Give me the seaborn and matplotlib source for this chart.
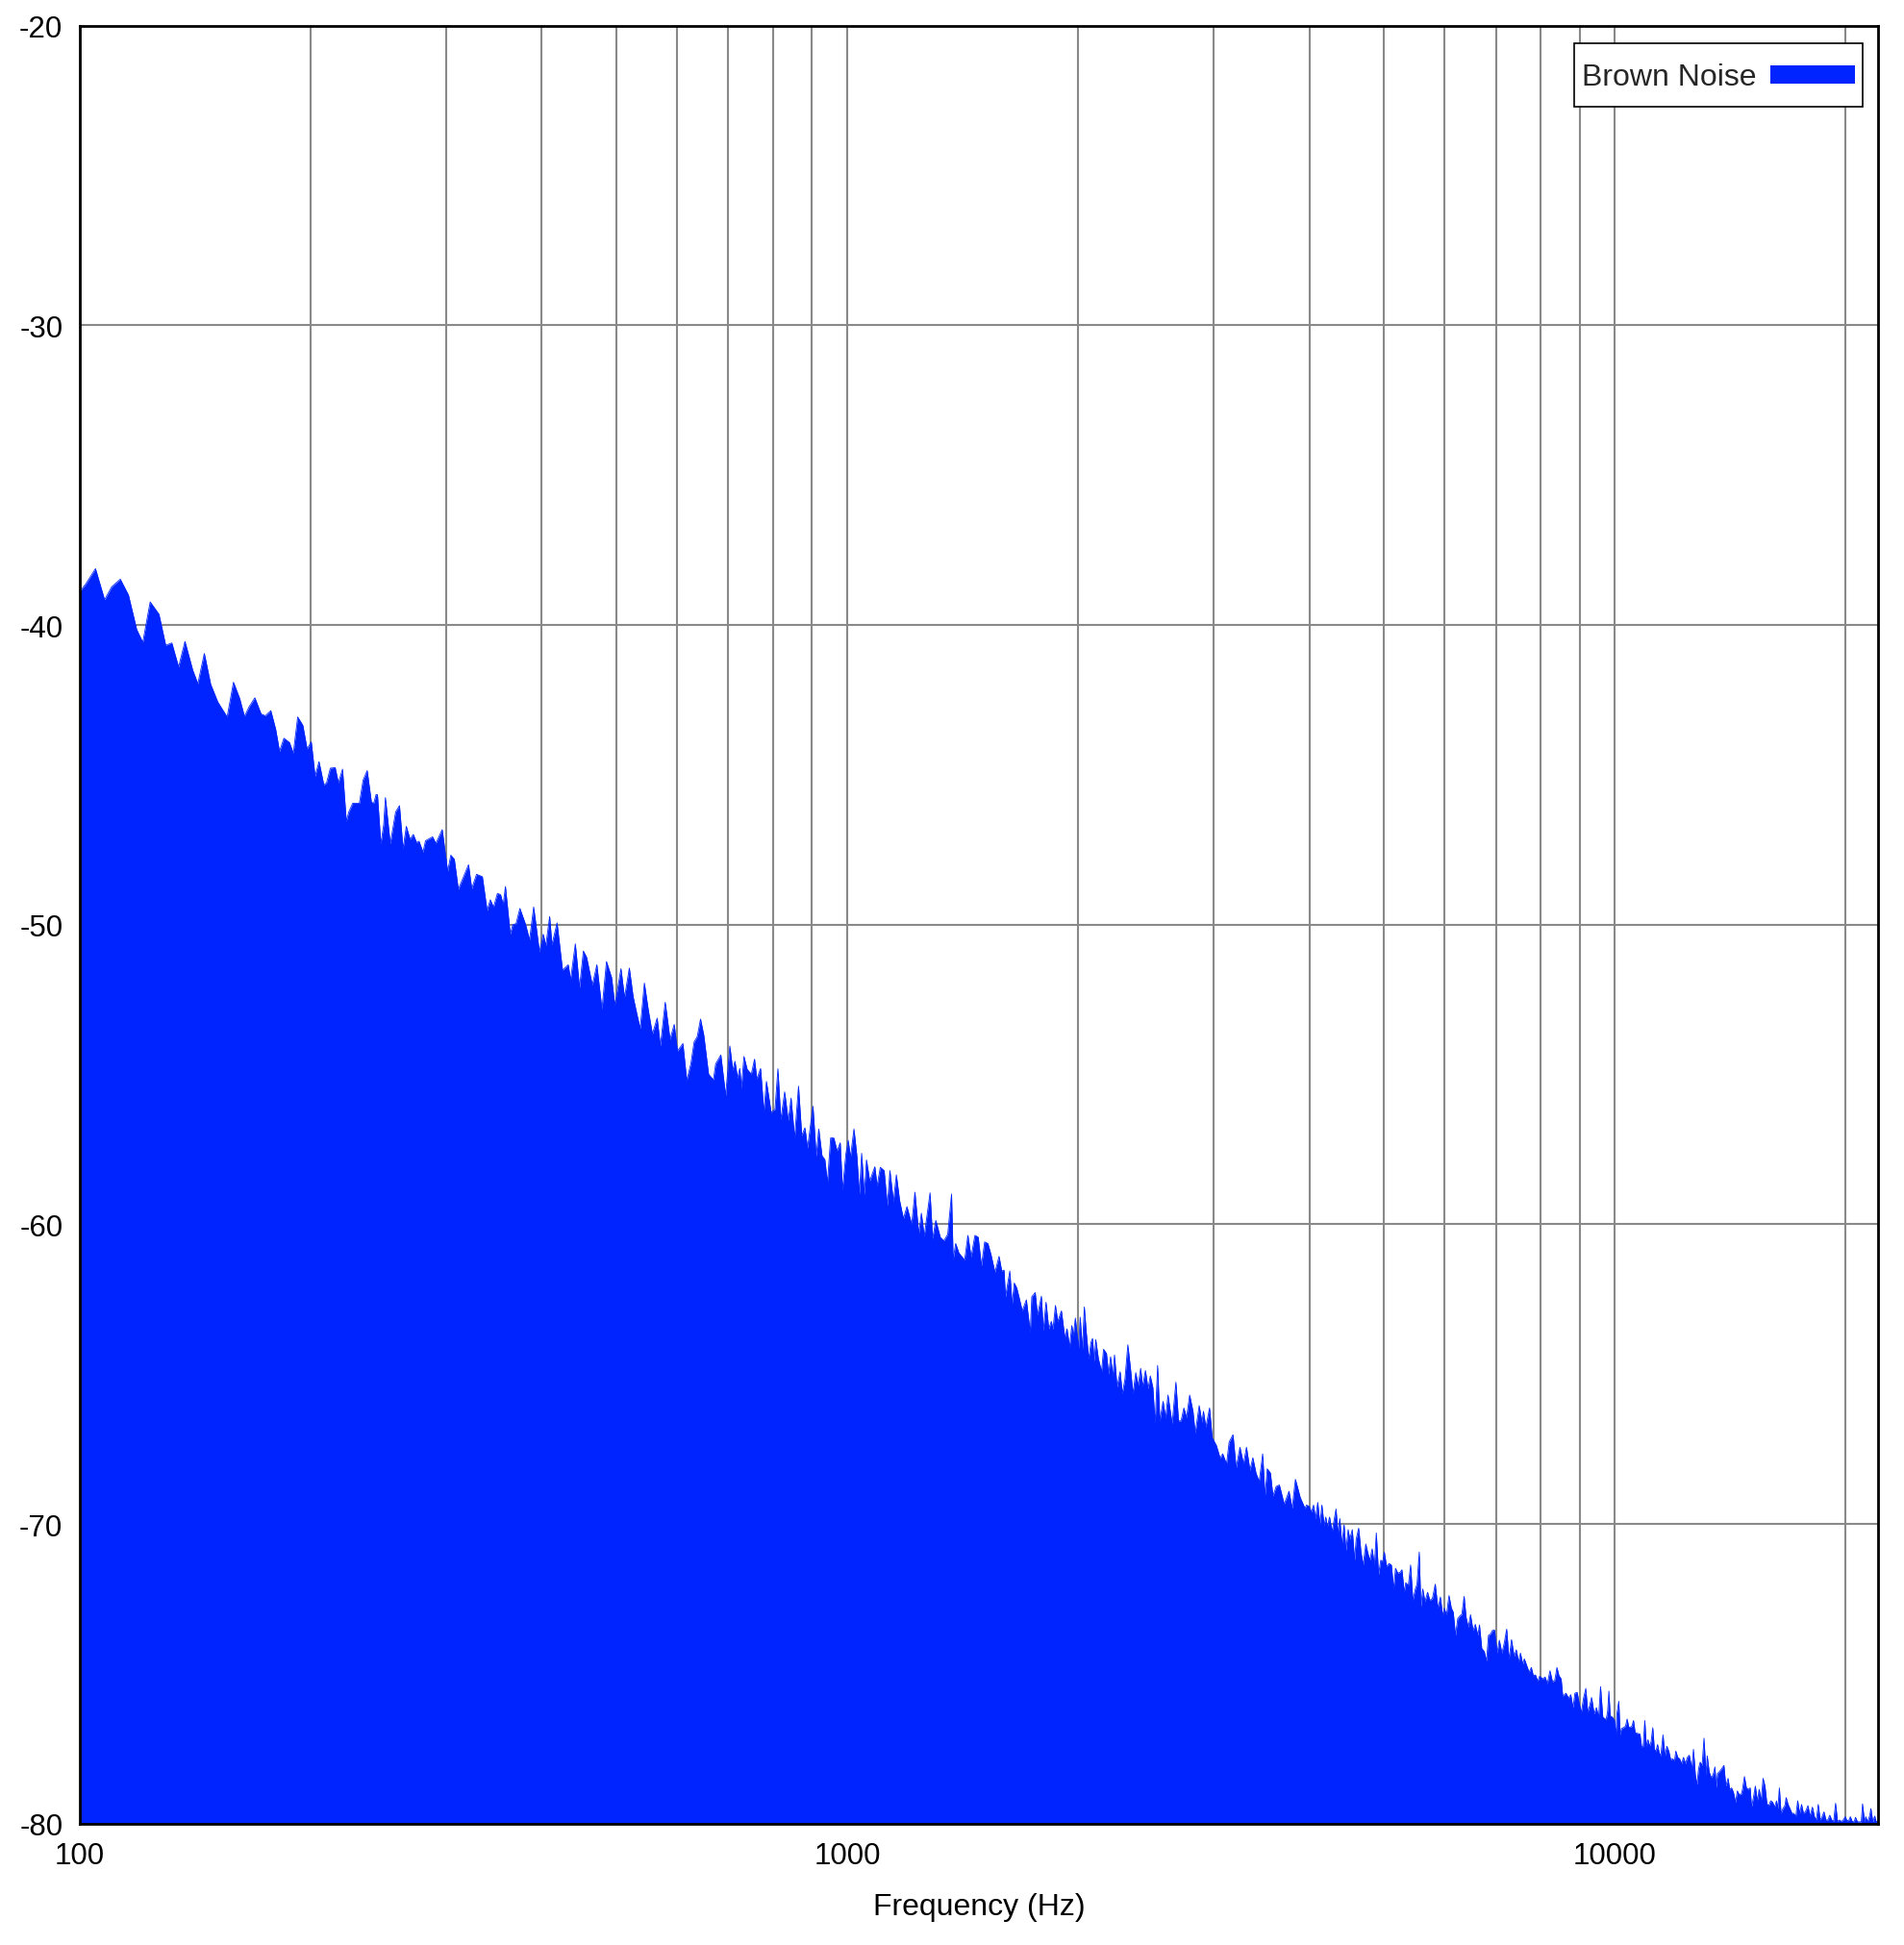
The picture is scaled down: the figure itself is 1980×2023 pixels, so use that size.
import numpy as np
import pandas as pd
import matplotlib
matplotlib.use("Agg")
import matplotlib.pyplot as plt
import seaborn as sns
from matplotlib.ticker import FixedLocator, FixedFormatter, NullFormatter
from matplotlib.legend_handler import HandlerPatch
from matplotlib.patches import Rectangle

# ---------------- data ----------------
freq_band1 = [100.0, 101.9, 104.9, 107.8, 110.1, 113.0, 115.8, 118.7, 120.9, 123.6, 126.9, 129.5,
              131.9, 134.6, 137.2, 140.4, 142.6, 145.4, 148.2, 151.4, 155.7, 158.7, 161.7, 164.0,
              166.3, 169.2, 172.4, 174.6, 177.5, 180.1, 182.2, 184.6, 187.7, 189.9, 192.4, 195.4,
              197.9, 200.4, 202.7, 205.1, 208.1, 209.8, 212.2, 215.3, 217.4, 220.1, 222.6, 224.2,
              226.9, 231.5, 234.1, 237.0, 240.0, 241.7, 243.4, 244.4, 246.9, 249.0]
db_band1 = [-38.9, -38.63, -38.12, -39.16, -38.73, -38.47, -39.0, -40.15, -40.58, -39.23, -39.64, -40.68,
            -40.6, -41.4, -40.55, -41.5, -41.96, -40.95, -41.98, -42.57, -43.07, -41.91, -42.46, -43.05,
            -42.73, -42.43, -42.97, -43.03, -42.86, -43.48, -44.22, -43.78, -43.92, -44.28, -43.07, -43.35,
            -44.14, -43.9, -45.05, -44.56, -45.34, -45.27, -44.78, -44.76, -45.27, -44.81, -46.55, -46.25,
            -45.95, -45.95, -45.18, -44.86, -45.91, -45.95, -45.66, -45.66, -47.31, -46.67]

freq_band2 = [250.3, 254.0, 258.1, 261.1, 263.9, 266.5, 269.5, 272.2, 274.8, 276.9, 280.2, 282.3,
              288.4, 291.2, 296.8, 301.7, 304.6, 307.8, 311.5, 321.2, 324.3, 329.0, 334.8, 339.6,
              342.9, 346.2, 350.3, 353.6, 356.4, 358.8, 364.0, 366.8, 370.4, 374.7, 381.2, 385.7,
              390.5, 397.3, 401.9, 405.0, 409.7, 412.5, 418.9, 425.8, 433.2, 436.2, 442.5, 448.1,
              453.3, 457.7, 465.7, 472.0, 479.3, 485.8, 493.4, 498.1, 507.4, 512.8, 520.3, 526.3,
              532.9, 537.6, 544.3, 550.6, 557.6, 565.6, 571.1, 579.4, 587.9, 595.3, 601.1, 611.0,
              618.1, 625.8, 631.9, 638.0, 644.2]
db_band2 = [-45.76, -47.31, -46.24, -46.03, -47.47, -46.72, -47.15, -46.99, -47.26, -47.22, -47.58, -47.2,
            -47.07, -47.29, -46.83, -48.22, -47.68, -47.82, -48.82, -48.0, -48.8, -48.32, -48.4, -49.53,
            -49.17, -49.42, -48.96, -49.0, -49.33, -48.73, -50.32, -50.0, -49.97, -49.46, -50.0, -50.51,
            -49.41, -50.91, -50.32, -50.7, -49.73, -50.67, -49.94, -51.52, -51.34, -51.84, -50.64, -52.11,
            -50.88, -51.09, -52.02, -51.34, -52.83, -51.23, -51.77, -52.69, -51.47, -52.43, -51.45, -52.41,
            -53.05, -53.47, -51.95, -52.83, -53.65, -53.12, -54.05, -52.59, -53.83, -53.33, -54.22, -53.97,
            -55.2, -54.64, -53.92, -53.73, -53.15]

freq_band3 = [650.5, 659.9, 669.6, 674.1, 684.6, 694.6, 703.4, 709.5, 714.3, 719.8, 724.7, 728.2,
              733.8, 740.9, 750.2, 757.5, 762.6, 771.4, 778.9, 785.0, 796.2, 805.4, 812.5, 819.6,
              829.1, 838.0, 845.2, 854.2, 864.3, 872.7, 881.1, 888.0, 902.6, 911.4, 918.4, 927.3,
              935.3, 942.6, 951.7, 961.0, 970.1, 979.5, 986.1, 996.3, 1003.2, 1010.0, 1020.7, 1029.5,
              1037.5, 1044.5, 1052.7, 1059.8, 1070.1, 1086.7, 1094.0, 1104.6, 1117.4, 1128.2, 1136.9,
              1149.0, 1159.1, 1170.3, 1183.9, 1196.5, 1213.7, 1225.5, 1239.7, 1249.4, 1260.2, 1282.4,
              1292.2, 1304.8, 1322.3, 1336.4, 1352.1, 1367.8, 1374.4, 1384.9, 1398.3, 1422.7, 1436.5,
              1450.5, 1467.3, 1481.6, 1496.0, 1510.5, 1525.2, 1539.6, 1557.8, 1577.3]
db_band3 = [-53.69, -54.99, -55.18, -54.65, -54.35, -55.71, -54.05, -54.86, -54.56, -55.12, -54.8, -55.47,
            -54.4, -54.83, -54.99, -54.49, -55.15, -54.8, -56.25, -55.23, -56.27, -56.16, -54.81, -56.51,
            -55.58, -56.54, -55.79, -57.12, -55.39, -57.04, -56.78, -57.46, -56.06, -57.74, -56.82, -57.71,
            -57.84, -58.61, -57.12, -57.12, -57.55, -57.28, -58.85, -57.65, -57.2, -57.76, -56.82, -57.71,
            -58.99, -57.63, -59.02, -57.85, -58.56, -58.08, -58.72, -58.1, -58.21, -59.38, -58.21,
            -59.25, -58.35, -59.2, -59.81, -59.41, -60.0, -58.93, -60.32, -59.63, -60.4, -58.95,
            -60.48, -59.87, -60.43, -60.55, -60.34, -58.99, -61.17, -60.64, -60.96, -61.19, -60.37,
            -61.09, -60.37, -60.43, -61.39, -60.59, -60.64, -61.01, -61.6, -61.07]

freq_band4 = [1590, 1601, 1608, 1629, 1640, 1651, 1663, 1675, 1691, 1712, 1732, 1740, 1758, 1770, 1791,
              1801, 1816, 1831, 1845, 1854, 1868, 1881, 1902, 1921, 1934, 1949, 1962, 1971, 1983, 2002,
              2012, 2025, 2037, 2049, 2064, 2078, 2088, 2098, 2108, 2125, 2145, 2158, 2177, 2191, 2204,
              2219, 2230, 2247, 2268, 2283, 2301, 2321, 2339, 2357, 2377, 2394, 2412, 2426, 2447, 2466,
              2483, 2502, 2519, 2538, 2555, 2580, 2600, 2618, 2651, 2681, 2702, 2723, 2746, 2768, 2794,
              2822, 2841, 2875, 2899, 2912, 2933, 2966, 2989, 3027, 3062, 3085, 3121, 3145, 3182, 3212,
              3249, 3284, 3313, 3348, 3377, 3409, 3442, 3478, 3502, 3526, 3560, 3587, 3622, 3657, 3710,
              3764, 3800, 3837, 3893, 3949]
db_band4 = [-61.56, -61.53, -62.42, -61.56, -62.67, -61.96, -62.12, -62.44, -62.89, -62.52, -63.61, -62.42,
            -62.28, -63.03, -62.4, -63.56, -62.6, -63.49, -63.24, -63.51, -62.71, -63.24, -62.89, -63.78,
            -63.49, -64.1, -63.38, -63.72, -63.13, -64.13, -63.1, -64.17, -62.76, -63.61, -64.49, -63.94,
            -63.81, -64.58, -63.85, -64.49, -64.92, -64.17, -64.31, -65.01, -64.42, -65.09, -64.36, -65.43,
            -64.92, -65.65, -65.17, -64.02, -64.79, -65.65, -64.95, -65.38, -64.81, -65.41, -64.88, -65.49,
            -65.06, -65.45, -66.66, -64.71, -66.56, -65.91, -66.48, -65.7, -66.66, -65.27, -66.56, -66.56,
            -66.13, -66.45, -65.7, -66.24, -66.98, -66.05, -66.61, -66.24, -66.77, -66.13, -67.12, -67.38,
            -67.81, -67.66, -68.0, -67.27, -67.02, -68.13, -67.44, -68.0, -67.44, -68.21, -67.79, -68.3,
            -68.59, -67.66, -69.07, -68.16, -68.3, -69.07, -68.75, -68.7, -69.34, -68.91, -69.48, -68.51,
            -69.12, -69.48]

freq_band5 = [3967, 3998, 4025, 4052, 4075, 4103, 4130, 4154, 4182, 4203, 4223, 4251, 4284, 4305, 4334,
              4359, 4384, 4410, 4440, 4465, 4495, 4516, 4551, 4582, 4604, 4639, 4671, 4702, 4739, 4770,
              4798, 4830, 4863, 4891, 4924, 4957, 4986, 5010, 5044, 5083, 5117, 5152, 5181, 5216, 5251,
              5282, 5318, 5343, 5384, 5421, 5457, 5499, 5526, 5563, 5590, 5622, 5660, 5704, 5743, 5787,
              5837, 5882, 5928, 5968, 5996, 6037, 6083, 6125, 6160, 6202, 6244, 6280, 6322, 6365, 6402,
              6445, 6488, 6538, 6582, 6633, 6665, 6710, 6762, 6807, 6847, 6893, 6926, 6973, 7027, 7074,
              7129, 7177, 7232, 7281, 7337, 7394, 7444, 7494, 7537, 7588, 7624, 7683, 7735, 7787, 7832,
              7885, 7938, 7984, 8053, 8116, 8170, 8234, 8297, 8353, 8409, 8458, 8515, 8556, 8639, 8705,
              8764, 8823, 8874, 8934, 8994, 9046, 9107, 9169, 9222, 9284, 9329, 9401, 9465, 9528, 9583,
              9648, 9713]
db_band5 = [-69.37, -69.41, -69.6, -69.37, -69.84, -69.28, -70.01, -69.37, -70.05, -69.77, -70.09, -69.77,
            -70.25, -69.93, -69.5, -70.3, -69.82, -70.67, -70.03, -70.89, -70.19, -70.51, -70.19, -71.21,
            -70.51, -70.14, -70.94, -71.37, -70.67, -70.99, -71.21, -70.83, -71.37, -70.3, -71.69, -71.21,
            -71.26, -70.94, -71.42, -71.32, -71.37, -72.17, -71.48, -71.64, -71.62, -71.53, -72.28, -71.96,
            -72.06, -71.37, -72.55, -72.17, -72.01, -70.94, -72.76, -72.17, -72.6, -72.28, -72.55, -72.49,
            -72.01, -72.81, -72.44, -73.08, -72.81, -73.03, -72.39, -72.81, -72.94, -73.72, -73.16, -73.08,
            -73.01, -72.42, -73.11, -73.45, -73.03, -73.56, -73.35, -73.72, -73.37, -74.15, -74.26, -74.58,
            -73.72, -73.67, -73.56, -73.54, -74.31, -73.88, -74.31, -73.99, -73.51, -74.52, -73.86, -74.42,
            -74.2, -74.61, -74.31, -74.68, -74.5, -74.74, -74.95, -74.79, -75.06, -75.04, -75.25, -75.08,
            -75.17, -75.11, -75.33, -74.9, -75.27, -75.22, -74.79, -75.06, -75.17, -75.75, -75.65, -75.81,
            -75.7, -76.13, -75.65, -75.62, -76.02, -76.29, -75.81, -75.49, -76.29, -76.02, -75.79, -76.34,
            -76.13, -76.45, -75.43, -76.45, -76.5]

freq_band6 = [9745, 9790, 9826, 9864, 9930, 9989, 10036, 10065, 10123, 10162, 10201, 10260, 10329, 10379,
              10429, 10479, 10530, 10580, 10631, 10703, 10786, 10838, 10890, 10943, 10995, 11048, 11101,
              11154, 11208, 11262, 11316, 11371, 11425, 11480, 11558, 11625, 11692, 11760, 11828, 11896,
              11965, 12011, 12080, 12150, 12220, 12291, 12362, 12434, 12506, 12602, 12663, 12736, 12797,
              12859, 12921, 12996, 13071, 13147, 13198, 13274, 13351, 13428, 13506, 13558, 13610, 13689,
              13782, 13875, 13955, 14049, 14117, 14199, 14281, 14364, 14447, 14531, 14615, 14671, 14756,
              14842, 14928, 15014, 15072, 15159, 15247, 15335, 15424, 15514, 15604, 15694, 15785, 15876,
              15968, 16061, 16154, 16247, 16310, 16388, 16467, 16562, 16658, 16722, 16819, 16917, 17015,
              17113, 17213, 17312, 17413, 17514, 17615, 17717, 17854, 17958, 18096, 18201, 18307, 18413,
              18519, 18627, 18735, 18843, 18952, 19062, 19173, 19284, 19395, 19508, 19621, 19735, 19849,
              19964, 20080, 20196, 20274, 20392, 20510, 20589, 20708, 20828, 20949, 21030, 21152, 21234,
              21356, 21480, 21563, 21688, 21814, 21898, 22050]
db_band6 = [-76.54, -76.24, -75.58, -76.4, -76.45, -76.54, -77.04, -76.33, -75.92, -77.04, -76.83, -76.8,
            -76.75, -76.51, -76.78, -76.78, -76.75, -76.56, -76.97, -76.99, -77.01, -77.44, -77.42, -76.56,
            -77.42, -77.2, -77.42, -77.26, -76.8, -77.52, -77.58, -77.36, -77.63, -77.74, -77.04, -77.74,
            -77.42, -77.58, -77.87, -77.84, -77.9, -77.58, -77.79, -77.84, -78.0, -77.79, -78.0, -77.79,
            -77.72, -78.17, -77.52, -78.38, -78.7, -78.17, -77.95, -78.06, -77.15, -78.38, -77.74, -78.27,
            -78.46, -78.38, -78.11, -78.81, -78.33, -78.27, -78.17, -78.06, -78.75, -78.49, -78.86, -78.81,
            -78.97, -79.29, -78.91, -79.04, -79.02, -78.86, -78.43, -78.81, -78.86, -78.81, -79.45, -79.13,
            -78.75, -79.24, -78.86, -79.24, -78.49, -78.75, -79.34, -79.4, -79.24, -79.29, -79.45, -79.24,
            -79.5, -78.81, -79.66, -79.5, -79.4, -79.13, -79.36, -79.5, -79.66, -79.66, -79.77, -79.24,
            -79.66, -79.36, -79.66, -79.61, -79.4, -79.75, -79.45, -79.77, -79.88, -79.36, -79.88, -79.77,
            -79.61, -79.88, -79.88, -79.72, -79.88, -79.93, -79.32, -79.93, -79.88, -79.93, -79.88, -79.77,
            -79.91, -79.88, -79.77, -79.93, -79.94, -79.79, -79.94, -79.94, -79.94, -79.34, -79.94, -79.77,
            -79.94, -79.75, -79.5, -79.94, -79.75, -79.94, -79.9]

series_label = "Brown Noise"
x_major_ticks = [100, 1000, 10000]
x_major_labels = ["100", "1000", "10000"]
x_minor_ticks = [200, 300, 400, 500, 600, 700, 800, 900,
                 2000, 3000, 4000, 5000, 6000, 7000, 8000, 9000, 20000]
y_ticks = [-80, -70, -60, -50, -40, -30, -20]
y_tick_labels = ["-80", "-70", "-60", "-50", "-40", "-30", "-20"]
x_label = "Frequency (Hz)"

# ---------------- style ----------------
sns.set_theme(style="white")
plt.rcParams['font.family'] = ['Liberation Sans', 'DejaVu Sans']
plt.rcParams['axes.unicode_minus'] = False

FILL = '#0024ff'
GRID = '#898989'
FS_TICK = 22.5
FS_TEXT = 23

freq = freq_band1 + freq_band2 + freq_band3 + freq_band4 + freq_band5 + freq_band6
db = db_band1 + db_band2 + db_band3 + db_band4 + db_band5 + db_band6
df = pd.DataFrame({"freq": freq, "db": db})

W, H = 1980, 2024
fig = plt.figure(figsize=(W / 100, H / 100), dpi=100)
left, right, top, bottom = 82.7, 1953.3, 27.7, 1897.7
ax = fig.add_axes([left / W, 1 - bottom / H, (right - left) / W, (bottom - top) / H])
ax.set_xscale('log')
ax.set_xlim(100, 22050)
ax.set_ylim(-80, -20)

ax.fill_between(df["freq"], df["db"], -80, color=FILL, linewidth=0, zorder=2)
sns.lineplot(data=df, x="freq", y="db", ax=ax, color=FILL, linewidth=0.6,
             estimator=None, sort=False, legend=False, zorder=2)

ax.xaxis.set_major_locator(FixedLocator(x_major_ticks))
ax.xaxis.set_major_formatter(FixedFormatter(x_major_labels))
ax.xaxis.set_minor_locator(FixedLocator(x_minor_ticks))
ax.xaxis.set_minor_formatter(NullFormatter())
ax.yaxis.set_major_locator(FixedLocator(y_ticks))
ax.yaxis.set_major_formatter(FixedFormatter(y_tick_labels))

ax.set_axisbelow(True)
ax.grid(True, which='both', axis='both', color=GRID, linewidth=1.5)
ax.tick_params(axis='both', which='both', length=0, labelsize=FS_TICK, colors='black')
ax.tick_params(axis='x', pad=13.5)
ax.tick_params(axis='y', pad=12.5)
for s in ax.spines.values():
    s.set_color('black')
    s.set_linewidth(2.0)
    s.set_zorder(5)

ax.set_xlabel(x_label, fontsize=FS_TEXT, labelpad=16, color='black')
ax.set_ylabel("")

# legend swatch: thin bar centred in a taller handle box
SWATCH_H_PT = 19 * 72 / 100.0


def swatch(legend, orig_handle, xdescent, ydescent, width, height, fontsize):
    return Rectangle((-xdescent, -ydescent + (height - SWATCH_H_PT) / 2.0), width, SWATCH_H_PT)


proxy = Rectangle((0, 0), 1, 1, facecolor=FILL, edgecolor='none')
leg = ax.legend(handles=[proxy], labels=[series_label],
                loc='upper right', bbox_to_anchor=(1936.5 / W, 1 - 45.5 / H),
                bbox_transform=fig.transFigure, borderaxespad=0, frameon=True,
                fancybox=False, edgecolor='black', framealpha=1, markerfirst=False,
                handlelength=2.75, handleheight=2.05, handletextpad=0.45, borderpad=0.25,
                fontsize=FS_TEXT,
                handler_map={Rectangle: HandlerPatch(patch_func=swatch)})
leg.get_frame().set_linewidth(1.2)

fig.savefig("out.png", dpi=100)
